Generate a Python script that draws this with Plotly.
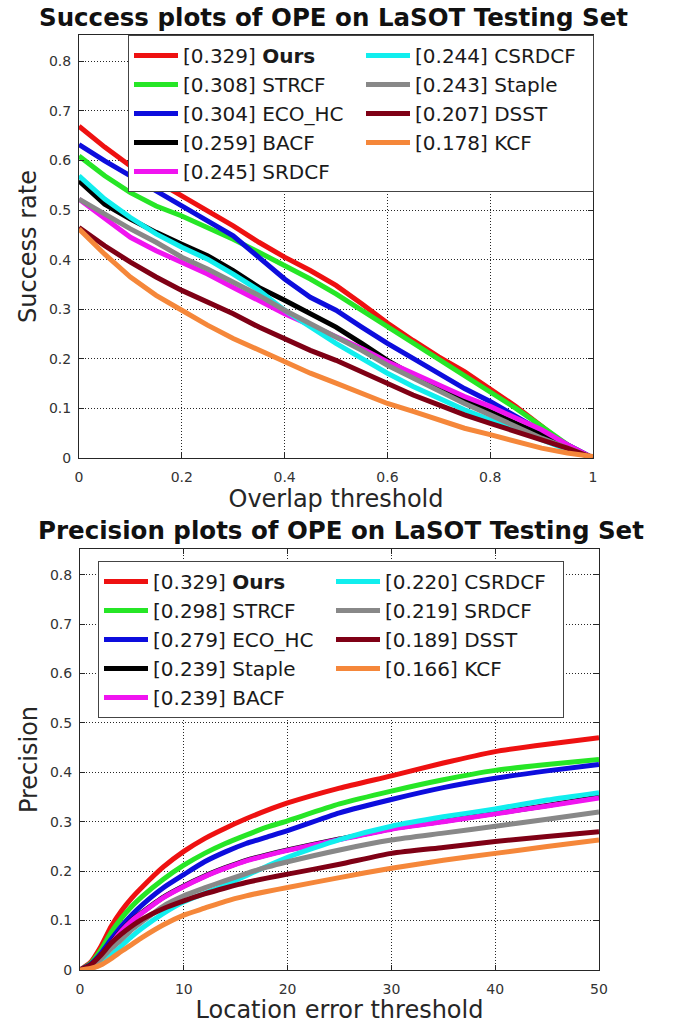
import plotly.graph_objects as go

W, H = 675, 1024
FONT = "DejaVu Sans"

# ---------------- data ----------------
overlap_thr = [0.0, 0.05, 0.1, 0.15, 0.2, 0.25, 0.3, 0.35, 0.4, 0.45, 0.5,
               0.55, 0.6, 0.65, 0.7, 0.75, 0.8, 0.85, 0.9, 0.95, 1.0]

succ_ours   = [0.669, 0.627, 0.589, 0.559, 0.528, 0.498, 0.468, 0.435, 0.405, 0.378, 0.348,
               0.311, 0.272, 0.237, 0.204, 0.174, 0.140, 0.104, 0.064, 0.023, 0.0]
succ_strcf  = [0.609, 0.569, 0.535, 0.508, 0.488, 0.465, 0.441, 0.415, 0.388, 0.361, 0.331,
               0.298, 0.264, 0.231, 0.197, 0.164, 0.134, 0.100, 0.064, 0.027, 0.0]
succ_eco    = [0.632, 0.599, 0.569, 0.538, 0.508, 0.478, 0.448, 0.405, 0.361, 0.324, 0.298,
               0.264, 0.231, 0.201, 0.171, 0.140, 0.114, 0.084, 0.054, 0.027, 0.0]
succ_bacf   = [0.559, 0.512, 0.482, 0.455, 0.431, 0.408, 0.378, 0.344, 0.318, 0.291, 0.264,
               0.231, 0.197, 0.167, 0.140, 0.117, 0.094, 0.070, 0.047, 0.023, 0.0]
succ_srdcf  = [0.522, 0.482, 0.445, 0.418, 0.395, 0.371, 0.344, 0.318, 0.291, 0.268, 0.244,
               0.221, 0.194, 0.171, 0.147, 0.124, 0.104, 0.080, 0.057, 0.027, 0.0]
succ_csrdcf = [0.569, 0.522, 0.485, 0.452, 0.425, 0.401, 0.371, 0.338, 0.298, 0.264, 0.231,
               0.201, 0.171, 0.144, 0.120, 0.097, 0.077, 0.058, 0.037, 0.017, 0.0]
succ_staple = [0.522, 0.492, 0.462, 0.435, 0.405, 0.381, 0.355, 0.328, 0.298, 0.271, 0.244,
               0.217, 0.187, 0.161, 0.134, 0.110, 0.087, 0.064, 0.040, 0.020, 0.0]
succ_dsst   = [0.465, 0.428, 0.395, 0.365, 0.338, 0.314, 0.291, 0.264, 0.241, 0.217, 0.197,
               0.174, 0.151, 0.127, 0.107, 0.087, 0.070, 0.054, 0.037, 0.020, 0.0]
succ_kcf    = [0.462, 0.411, 0.365, 0.328, 0.298, 0.268, 0.241, 0.217, 0.194, 0.171, 0.151,
               0.130, 0.110, 0.094, 0.077, 0.060, 0.047, 0.033, 0.020, 0.010, 0.003]

loc_thr = [0, 1, 2, 3, 4, 5, 6, 8, 10, 12, 14, 16, 18, 20, 25, 30, 35, 40, 45, 50]

prec_ours   = [0, 0.015, 0.047, 0.088, 0.120, 0.146, 0.168, 0.208, 0.240, 0.266, 0.287,
               0.306, 0.323, 0.338, 0.368, 0.393, 0.419, 0.442, 0.457, 0.470]
prec_strcf  = [0, 0.013, 0.040, 0.076, 0.105, 0.129, 0.149, 0.183, 0.212, 0.236, 0.256,
               0.273, 0.289, 0.302, 0.336, 0.362, 0.385, 0.404, 0.416, 0.426]
prec_eco    = [0, 0.011, 0.033, 0.062, 0.089, 0.112, 0.132, 0.166, 0.193, 0.219, 0.239,
               0.256, 0.269, 0.282, 0.318, 0.345, 0.369, 0.388, 0.403, 0.416]
prec_staple = [0, 0.009, 0.028, 0.054, 0.080, 0.101, 0.117, 0.147, 0.170, 0.190, 0.207,
               0.222, 0.233, 0.243, 0.265, 0.286, 0.301, 0.317, 0.333, 0.350]
prec_bacf   = [0, 0.008, 0.027, 0.053, 0.079, 0.100, 0.116, 0.146, 0.169, 0.189, 0.206,
               0.221, 0.232, 0.242, 0.264, 0.285, 0.300, 0.316, 0.332, 0.348]
prec_csrdcf = [0, 0.003, 0.012, 0.030, 0.049, 0.068, 0.085, 0.114, 0.138, 0.155, 0.172,
               0.191, 0.210, 0.228, 0.264, 0.291, 0.310, 0.326, 0.344, 0.359]
prec_srdcf  = [0, 0.007, 0.022, 0.043, 0.062, 0.082, 0.098, 0.129, 0.150, 0.166, 0.181,
               0.195, 0.208, 0.219, 0.243, 0.263, 0.277, 0.291, 0.305, 0.320]
prec_dsst   = [0, 0.010, 0.030, 0.054, 0.073, 0.089, 0.103, 0.124, 0.140, 0.154, 0.166,
               0.177, 0.186, 0.194, 0.214, 0.236, 0.248, 0.260, 0.270, 0.280]
prec_kcf    = [0, 0.003, 0.010, 0.023, 0.038, 0.052, 0.066, 0.091, 0.111, 0.125, 0.139,
               0.150, 0.159, 0.167, 0.187, 0.206, 0.222, 0.236, 0.250, 0.263]

# (label, values, colour, legend rank) in drawing order
success_series = [
    ("[0.329] <b>Ours</b>", succ_ours, "#ee1111", 1),
    ("[0.308] STRCF", succ_strcf, "#26e626", 3),
    ("[0.304] ECO_HC", succ_eco, "#0d0ddd", 5),
    ("[0.259] BACF", succ_bacf, "#000000", 7),
    ("[0.245] SRDCF", succ_srdcf, "#f014f0", 9),
    ("[0.244] CSRDCF", succ_csrdcf, "#11eeee", 2),
    ("[0.243] Staple", succ_staple, "#888888", 4),
    ("[0.207] DSST", succ_dsst, "#7f0015", 6),
    ("[0.178] KCF", succ_kcf, "#f5873a", 8),
]
precision_series = [
    ("[0.329] <b>Ours</b>", prec_ours, "#ee1111", 1),
    ("[0.298] STRCF", prec_strcf, "#26e626", 3),
    ("[0.279] ECO_HC", prec_eco, "#0d0ddd", 5),
    ("[0.239] Staple", prec_staple, "#000000", 7),
    ("[0.239] BACF", prec_bacf, "#f014f0", 9),
    ("[0.220] CSRDCF", prec_csrdcf, "#11eeee", 2),
    ("[0.219] SRDCF", prec_srdcf, "#888888", 4),
    ("[0.189] DSST", prec_dsst, "#7f0015", 6),
    ("[0.166] KCF", prec_kcf, "#f5873a", 8),
]

fig = go.Figure()
for name, vals, col, rank in success_series:
    fig.add_trace(go.Scatter(x=overlap_thr, y=vals, mode="lines", name=name,
                             line=dict(color=col, width=5), legend="legend",
                             legendrank=rank, xaxis="x", yaxis="y", showlegend=True))
for name, vals, col, rank in precision_series:
    fig.add_trace(go.Scatter(x=loc_thr, y=vals, mode="lines", name=name,
                             line=dict(color=col, width=5, shape="spline", smoothing=0.6),
                             legend="legend2", legendrank=rank,
                             xaxis="x2", yaxis="y2", showlegend=True))

axis_common = dict(
    showline=True, linecolor="#262626", linewidth=1, mirror="ticks",
    ticks="inside", ticklen=5, tickcolor="#262626",
    showgrid=True, gridcolor="rgba(0,0,0,0.85)", gridwidth=1, griddash="1px,2px",
    zeroline=False, tickfont=dict(family=FONT, size=14, color="#333333"),
    automargin=False,
)
title_font = dict(family=FONT, size=24, color="#262626")
ytickvals = [0, 0.1, 0.2, 0.3, 0.4, 0.5, 0.6, 0.7, 0.8]
yticktext = ["0", "0.1", "0.2", "0.3", "0.4", "0.5", "0.6", "0.7", "0.8"]
legend_font = dict(family=FONT, size=20, color="#1a1a1a")

fig.update_layout(
    width=W, height=H, margin=dict(l=0, r=0, t=0, b=0, pad=0, autoexpand=False),
    paper_bgcolor="white", plot_bgcolor="white",
    xaxis=dict(axis_common, domain=[79 / W, 593 / W], range=[0, 1], anchor="y",
               tickvals=[0, 0.2, 0.4, 0.6, 0.8, 1.0], ticktext=["0", "0.2", "0.4", "0.6", "0.8", "1"],
               ticklabelstandoff=6,
               title=dict(text="Overlap threshold", font=title_font, standoff=6)),
    yaxis=dict(axis_common, domain=[(H - 458) / H, (H - 35) / H], range=[0, 0.853], anchor="x",
               tickvals=ytickvals, ticktext=yticktext, ticklabelstandoff=4,
               title=dict(text="Success rate", font=title_font, standoff=5)),
    xaxis2=dict(axis_common, domain=[80 / W, 599 / W], range=[0, 50], anchor="y2",
                tickvals=[0, 10, 20, 30, 40, 50], ticklabelstandoff=6,
                title=dict(text="Location error threshold", font=title_font, standoff=6)),
    yaxis2=dict(axis_common, domain=[(H - 970) / H, (H - 549) / H], range=[0, 0.852], anchor="x2",
                tickvals=ytickvals, ticktext=yticktext, ticklabelstandoff=4,
                title=dict(text="Precision", font=title_font, standoff=5)),
    legend=dict(x=128 / W, y=(H - 35) / H, xanchor="left", yanchor="top",
                orientation="h", entrywidth=173, entrywidthmode="pixels", itemwidth=44,
                font=legend_font,
                bgcolor="white", bordercolor="#444444", borderwidth=1, tracegroupgap=0),
    legend2=dict(x=98 / W, y=(H - 561) / H, xanchor="left", yanchor="top",
                 orientation="h", entrywidth=173, entrywidthmode="pixels", itemwidth=44,
                 font=legend_font,
                 bgcolor="white", bordercolor="#444444", borderwidth=1, tracegroupgap=0),
    annotations=[
        dict(text="<b>Success plots of OPE on LaSOT Testing Set</b>", x=333 / W, y=(H - 17) / H,
             xref="paper", yref="paper", xanchor="center", yanchor="middle", showarrow=False,
             font=dict(family=FONT, size=24.5, color="#111111")),
        dict(text="<b>Precision plots of OPE on LaSOT Testing Set</b>", x=341 / W, y=(H - 530) / H,
             xref="paper", yref="paper", xanchor="center", yanchor="middle", showarrow=False,
             font=dict(family=FONT, size=24.5, color="#111111")),
    ],
)

fig.write_html("out.html")
